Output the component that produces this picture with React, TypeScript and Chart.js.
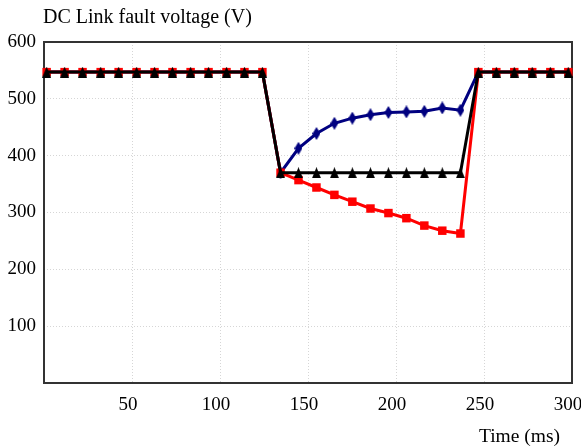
import React, { useEffect, useRef } from 'react';
import { Chart, registerables } from 'chart.js';

Chart.register(...registerables);

// Time stamps (ms) of the samples
const TIME_MS = [1.5, 11.7, 21.9, 32.2, 42.4, 52.6, 62.8, 73.0, 83.3, 93.5, 103.7, 113.9, 124.1, 134.4, 144.6, 154.8, 165.0, 175.2, 185.5, 195.7, 205.9, 216.1, 226.3, 236.6, 246.8, 257.0, 267.2, 277.4, 287.7, 297.9];

// DC link voltage (V) for the three cases
const BLACK_V = [547, 547, 547, 547, 547, 547, 547, 547, 547, 547, 547, 547, 547, 370, 370, 370, 370, 370, 370, 370, 370, 370, 370, 370, 547, 547, 547, 547, 547, 547];
const RED_V = [547, 547, 547, 547, 547, 547, 547, 547, 547, 547, 547, 547, 547, 370, 357, 344, 331, 319, 307, 299, 290, 277, 268, 263, 547, 547, 547, 547, 547, 547];
const BLUE_V = [547, 547, 547, 547, 547, 547, 547, 547, 547, 547, 547, 547, 547, 370, 413, 439, 457, 466, 472, 476, 477, 478, 484, 480, 547, 547, 547, 547, 547, 547];

const X_TICKS = [0, 50, 100, 150, 200, 250, 300];
const Y_TICKS = [0, 100, 200, 300, 400, 500, 600];

const TITLE = 'DC Link fault voltage (V)';
const X_TITLE = 'Time (ms)';

const FONT = '"Liberation Serif", "Times New Roman", serif';

function makeDiamond(w: number, h: number, color: string) {
  const c = document.createElement('canvas');
  c.width = w;
  c.height = h;
  const g = c.getContext('2d')!;
  g.fillStyle = color;
  g.beginPath();
  g.moveTo(w / 2, 0);
  g.lineTo(w, h / 2);
  g.lineTo(w / 2, h);
  g.lineTo(0, h / 2);
  g.closePath();
  g.fill();
  return c;
}

function makeTriangle(w: number, h: number, color: string) {
  const c = document.createElement('canvas');
  c.width = w;
  c.height = h;
  const g = c.getContext('2d')!;
  g.fillStyle = color;
  g.beginPath();
  g.moveTo(w / 2, 0);
  g.lineTo(w, h);
  g.lineTo(0, h);
  g.closePath();
  g.fill();
  return c;
}

export default function App() {
  const ref = useRef<HTMLCanvasElement | null>(null);

  useEffect(() => {
    if (!ref.current) return;
    const toPts = (ys: number[]) => TIME_MS.map((x, i) => ({ x, y: ys[i] }));
    const diamond = makeDiamond(8, 13, '#000080');
    const triangle = makeTriangle(9, 11, '#000000');

    const framePlugin = {
      id: 'frame',
      beforeDatasetsDraw(chart: any) {
        const { ctx, chartArea: a } = chart;
        ctx.save();
        ctx.strokeStyle = '#333333';
        ctx.lineWidth = 2;
        ctx.strokeRect(a.left, a.top, a.right - a.left, a.bottom - a.top);
        ctx.restore();
      },
      afterDraw(chart: any) {
        const { ctx, chartArea: a } = chart;
        ctx.save();
        ctx.fillStyle = '#000';
        ctx.textBaseline = 'alphabetic';
        ctx.font = `20px ${FONT}`;
        ctx.textAlign = 'left';
        ctx.fillText(TITLE, a.left - 1, 23);
        ctx.font = `19.5px ${FONT}`;
        ctx.textAlign = 'right';
        ctx.fillText(X_TITLE, a.right - 12, 442);
        ctx.restore();
      },
    };

    const chart = new Chart(ref.current, {
      type: 'line',
      data: {
        datasets: [
          {
            label: 'black',
            data: toPts(BLACK_V),
            borderColor: '#000000',
            backgroundColor: '#000000',
            borderWidth: 3,
            pointStyle: triangle as any,
            pointRadius: 5,
            pointBorderWidth: 0,
            order: 1,
            clip: false as any,
          },
          {
            label: 'red',
            data: toPts(RED_V),
            borderColor: '#ff0000',
            backgroundColor: '#ff0000',
            borderWidth: 3,
            pointStyle: 'rect',
            pointRadius: 6,
            pointBorderWidth: 0,
            order: 2,
            clip: false as any,
          },
          {
            label: 'blue',
            data: toPts(BLUE_V),
            borderColor: '#000080',
            backgroundColor: '#000080',
            borderWidth: 3,
            pointStyle: diamond as any,
            pointRadius: (c: any) => (c.raw && c.raw.y === 547 ? 0 : 5),
            pointBorderWidth: 0,
            order: 3,
            clip: false as any,
          },
        ],
      },
      options: {
        responsive: false,
        animation: false,
        devicePixelRatio: 1,
        layout: { padding: { top: 42, left: 0, right: 9, bottom: 0 } },
        plugins: {
          legend: { display: false },
          tooltip: { enabled: false },
          title: { display: false },
        },
        elements: { line: { tension: 0 } },
        scales: {
          x: {
            type: 'linear',
            min: 0,
            max: 300,
            afterBuildTicks: (s: any) => {
              s.ticks = X_TICKS.map((v) => ({ value: v }));
            },
            afterFit: (s: any) => {
              s.height = 64;
              s.paddingLeft = 0;
              s.paddingRight = 0;
            },
            grid: { color: '#d6d6d6', lineWidth: 1, drawTicks: false },
            border: { display: false, dash: [1, 2] },
            ticks: {
              color: '#000',
              font: { family: FONT, size: 19 },
              padding: 11,
              labelOffset: -4,
              maxRotation: 0,
              autoSkip: false,
              callback: (v: any) => (v === 0 ? '' : String(v)),
            },
          },
          y: {
            type: 'linear',
            min: 0,
            max: 600,
            afterBuildTicks: (s: any) => {
              s.ticks = Y_TICKS.map((v) => ({ value: v }));
            },
            afterFit: (s: any) => {
              s.width = 44;
              s.paddingTop = 0;
              s.paddingBottom = 0;
            },
            grid: { color: '#d6d6d6', lineWidth: 1, drawTicks: false },
            border: { display: false, dash: [1, 2] },
            ticks: {
              color: '#000',
              font: { family: FONT, size: 19 },
              padding: 8,
              autoSkip: false,
              callback: (v: any) => (v === 0 ? '' : String(v)),
            },
          },
        },
      },
      plugins: [framePlugin],
    } as any);

    return () => chart.destroy();
  }, []);

  return (
    <div style={{ position: 'absolute', left: 0, top: 0, width: 581, height: 447, background: '#fff' }}>
      <canvas ref={ref} width={581} height={447} style={{ display: 'block' }} />
    </div>
  );
}
